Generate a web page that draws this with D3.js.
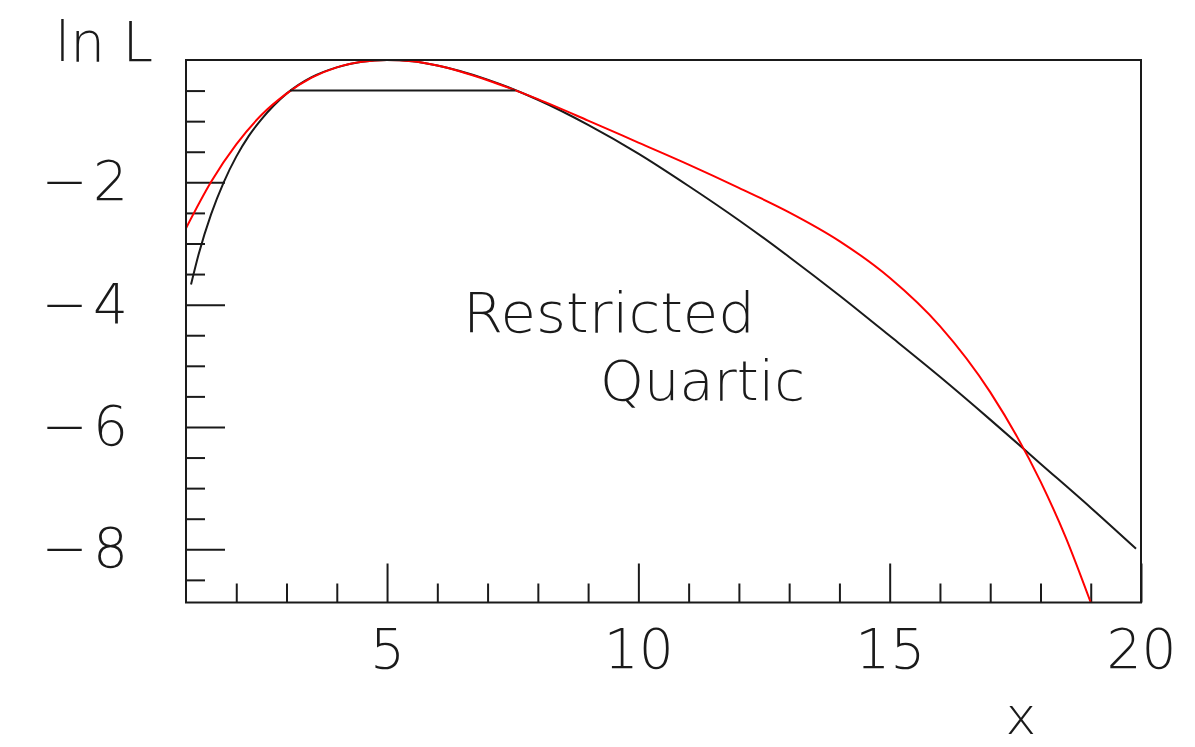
<!DOCTYPE html>
<html>
<head>
<meta charset="utf-8">
<script src="https://cdn.jsdelivr.net/npm/d3@7"></script>
<style>
  html, body { margin: 0; padding: 0; background: #fff; }
  svg { display: block; }
  .lbl { font-family: "DejaVu Sans", "Noto Sans", sans-serif; font-weight: 200; fill: #1a1a1a; }
</style>
</head>
<body>
<svg id="chart" width="1195" height="747"></svg>
<script>
// Poisson log-likelihood ln L versus the mean x (observed n = 5)
const exactX = [1.1, 1.25, 1.5, 1.75, 2, 2.25, 2.5, 3, 3.5, 4, 4.5, 5, 5.5, 6, 7, 8, 9, 10, 11, 12, 13, 14, 15, 16, 17, 18, 19, 19.9];
const exactY = [-3.67, -3.18, -2.52, -2.00, -1.58, -1.24, -0.97, -0.55, -0.28, -0.12, -0.03, 0, -0.02, -0.09, -0.32, -0.65, -1.06, -1.53, -2.06, -2.62, -3.22, -3.85, -4.51, -5.18, -5.88, -6.60, -7.32, -7.99];

// Restricted quartic approximation of the same curve
const quarticX = [1, 1.5, 2, 2.5, 3, 3.5, 4, 4.5, 5, 5.5, 6, 7, 8, 9, 10, 11, 12, 13, 14, 15, 16, 17, 18, 18.5, 19];
const quarticY = [-2.75, -1.99, -1.38, -0.90, -0.55, -0.29, -0.12, -0.03, 0, -0.02, -0.09, -0.33, -0.64, -0.99, -1.35, -1.71, -2.09, -2.49, -2.96, -3.56, -4.35, -5.43, -6.89, -7.80, -8.87];

// Δ ln L = -1/2 interval
const intervalX = [3.07, 7.55];
const intervalLevel = -0.5;

// Axis ticks
const xMajorTicks = [5, 10, 15, 20];
const xMinorTicks = [2, 3, 4, 6, 7, 8, 9, 11, 12, 13, 14, 16, 17, 18, 19];
const yMajorTicks = [-2, -4, -6, -8];
const yMinorTicks = [-0.5, -1, -1.5, -2.5, -3, -3.5, -4.5, -5, -5.5, -6.5, -7, -7.5, -8.5];
const xDomain = [1, 20];
const yDomain = [-8.87, 0];

const svg = d3.select("#chart");
const L = 186, R = 1141, T = 60, B = 602.5;
const FS = 55;

const x = d3.scaleLinear().domain(xDomain).range([L, R]);
const y = d3.scaleLinear().domain(yDomain).range([B, T]);

const ink = "#1a1a1a";

// clip for curves
svg.append("defs").append("clipPath").attr("id", "plotclip")
  .append("rect").attr("x", L).attr("y", T - 1).attr("width", R - L).attr("height", B - T + 1);

function styleAxis(g) {
  g.select(".domain").remove();
  g.selectAll(".tick line").attr("stroke", ink).attr("stroke-width", 2);
}

// x axis: minor and major ticks pointing inward
svg.append("g").attr("transform", `translate(0,${B})`)
  .call(d3.axisBottom(x).tickValues(xMinorTicks).tickSize(-19).tickFormat(""))
  .call(styleAxis);
const gxMaj = svg.append("g").attr("transform", `translate(0,${B})`)
  .call(d3.axisBottom(x).tickValues(xMajorTicks).tickSize(-39).tickPadding(26).tickFormat(d3.format("d")))
  .call(styleAxis);
gxMaj.selectAll("text").attr("class", "lbl").attr("font-size", FS).attr("fill", ink)
  .attr("font-family", null);

// y axis: minor and major ticks pointing inward
svg.append("g").attr("transform", `translate(${L},0)`)
  .call(d3.axisLeft(y).tickValues(yMinorTicks).tickSize(-19).tickFormat(""))
  .call(styleAxis);
const gyMaj = svg.append("g").attr("transform", `translate(${L},0)`)
  .call(d3.axisLeft(y).tickValues(yMajorTicks).tickSize(-39).tickPadding(58)
    .tickFormat(d => "\u2212\u200A" + Math.abs(d)))
  .call(styleAxis);
gyMaj.selectAll("text").attr("class", "lbl").attr("font-size", FS).attr("fill", ink)
  .attr("font-family", null);

// curves
const plot = svg.append("g").attr("clip-path", "url(#plotclip)");
const line = d3.line().x(d => x(d[0])).y(d => y(d[1])).curve(d3.curveMonotoneX);

plot.append("path")
  .datum(exactX.map((v, i) => [v, exactY[i]]))
  .attr("d", line).attr("fill", "none").attr("stroke", ink).attr("stroke-width", 2);

plot.append("path")
  .datum(quarticX.map((v, i) => [v, quarticY[i]]))
  .attr("d", line).attr("fill", "none").attr("stroke", "#ff0000").attr("stroke-width", 2);

plot.append("line")
  .attr("x1", x(intervalX[0])).attr("x2", x(intervalX[1]))
  .attr("y1", y(intervalLevel)).attr("y2", y(intervalLevel))
  .attr("stroke", ink).attr("stroke-width", 2);

// frame
svg.append("rect").attr("x", L).attr("y", T).attr("width", R - L).attr("height", B - T)
  .attr("fill", "none").attr("stroke", ink).attr("stroke-width", 2);

// titles and annotation
svg.append("text").attr("class", "lbl").attr("font-size", FS)
  .attr("x", 55).attr("y", 61).attr("textLength", 98).attr("lengthAdjust", "spacingAndGlyphs")
  .text("ln L");
svg.append("text").attr("class", "lbl").attr("font-size", 52)
  .attr("x", 1021).attr("y", 734).attr("text-anchor", "middle").text("x");
svg.append("text").attr("class", "lbl").attr("font-size", FS)
  .attr("x", 463).attr("y", 332).attr("textLength", 292).attr("lengthAdjust", "spacingAndGlyphs")
  .text("Restricted");
svg.append("text").attr("class", "lbl").attr("font-size", FS)
  .attr("x", 600).attr("y", 400).attr("textLength", 205).attr("lengthAdjust", "spacingAndGlyphs")
  .text("Quartic");
</script>
</body>
</html>
